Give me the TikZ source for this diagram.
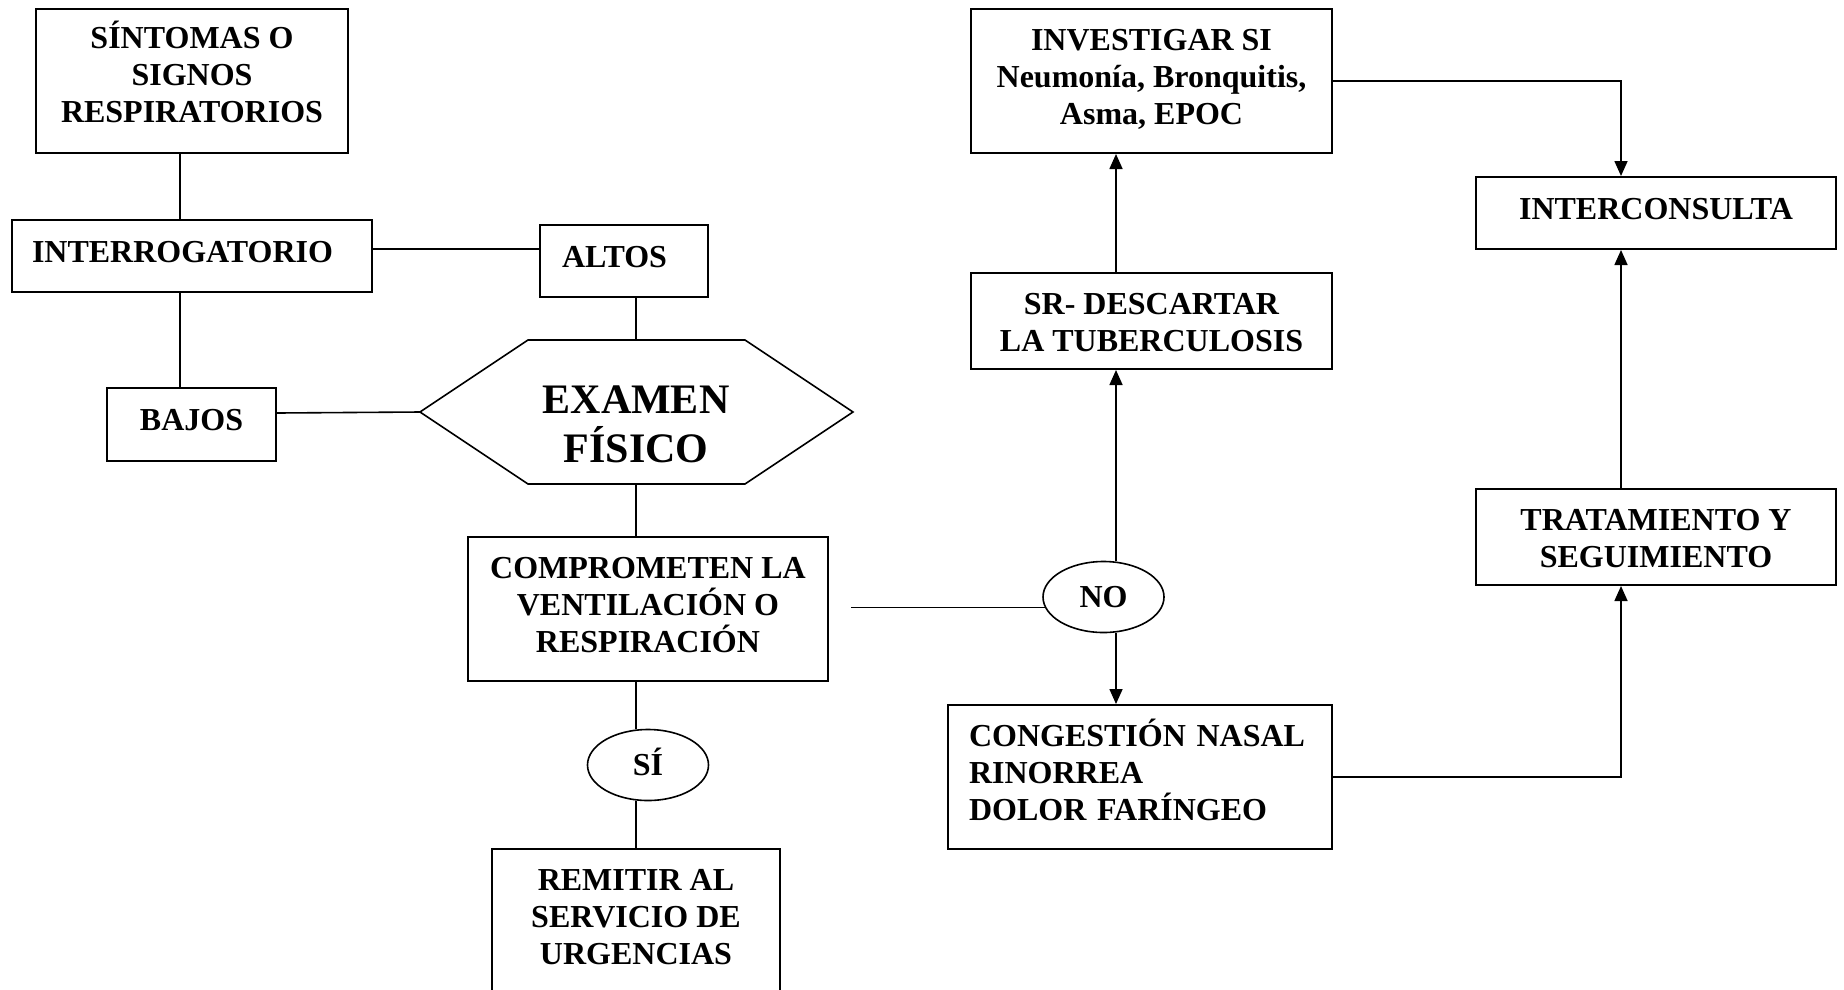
\documentclass[tikz,border=0pt]{standalone}
\usepackage{fontspec}
\setmainfont{Liberation Serif}
\usetikzlibrary{arrows.meta,shapes.geometric}
% invisible struts that set the space above the first line and below the last one
\newcommand\padtop[1]{\rule{0pt}{#1}}
\newcommand\padbot[1]{\rule[-#1]{0pt}{#1}}
\begin{document}
\begin{tikzpicture}[x=1pt,y=-1pt,
  every node/.style={font=\bfseries\fontsize{32}{37}\selectfont},
  box/.style={draw, line width=2pt, inner sep=0pt, align=center},
  oval/.style={draw, ellipse, line width=1.6pt, inner sep=0pt,
    minimum width=121pt, minimum height=71pt, text height=26pt, text depth=5pt},
  bigtext/.style={font=\bfseries\fontsize{42}{49}\selectfont, align=center, inner sep=0pt},
  link/.style={line width=1.6pt},
  flow/.style={line width=1.6pt, -{Triangle[length=15pt,width=13pt]}},
]
\useasboundingbox (0,0) rectangle (1844,989);
\clip (0,0) rectangle (1844,989);

% column and row guides for the connectors
\coordinate (cA) at (180,0);
\coordinate (cB) at (636,0);
\coordinate (cC) at (1116,0);
\coordinate (cD) at (1621,0);
\coordinate (cStart) at (851,0);
\coordinate (rA) at (0,249);
\coordinate (rB) at (0,413);

% left part
\node[box, minimum width=312pt, minimum height=144pt] (sint) at (192,81)
  {\padtop{28pt}SÍNTOMAS O\\SIGNOS\\RESPIRATORIOS\padbot{19pt}};
\node[box, align=left, inner xsep=20pt, text width=320pt, minimum height=72pt] (interr) at (192,256)
  {\padtop{28pt}INTERROGATORIO\padbot{16pt}};
\node[box, align=left, inner xsep=22pt, text width=124pt, minimum height=72pt] (altos) at (624,261)
  {\padtop{28pt}ALTOS\padbot{16pt}};
\node[box, minimum width=169pt, minimum height=73pt] (bajos) at (191.5,424.5)
  {\padtop{28pt}BAJOS\padbot{16pt}};

% physical examination hexagon
\coordinate (hL) at (420,412);
\coordinate (hTL) at (528,340);
\coordinate (hTR) at (745,340);
\coordinate (hR) at (853,412);
\coordinate (hBR) at (745,484);
\coordinate (hBL) at (528,484);
\draw[line width=1.6pt, line join=miter] (hL) -- (hTL) -- (hTR) -- (hR) -- (hBR) -- (hBL) -- cycle;
\node[bigtext] (exam) at (636,424) {EXAMEN\\FÍSICO};

\node[box, minimum width=360pt, minimum height=144pt] (compr) at (648,609)
  {\padtop{28pt}COMPROMETEN LA\\VENTILACIÓN O\\RESPIRACIÓN\padbot{15pt}};
\node[oval] (si) at (648,765) {SÍ};
\node[box, minimum width=288pt, minimum height=144pt] (remit) at (636,921)
  {\padtop{28pt}REMITIR AL\\SERVICIO DE\\URGENCIAS\padbot{15pt}};

% right part
\node[oval] (no) at (1103.5,597) {NO};
\node[box, minimum width=361pt, minimum height=144pt] (invest) at (1151.5,81)
  {\padtop{28pt}INVESTIGAR SI\\Neumonía, Bronquitis,\\Asma, EPOC\padbot{15pt}};
\node[box, minimum width=361pt, minimum height=96pt] (sr) at (1151.5,321)
  {\padtop{36pt}SR- DESCARTAR\\LA TUBERCULOSIS\padbot{12pt}};
\node[box, align=left, inner xsep=21pt, text width=342pt, minimum height=144pt] (cong) at (1140,777)
  {\padtop{28pt}CONGESTIÓN NASAL\\RINORREA\\DOLOR FARÍNGEO\padbot{16pt}};
\node[box, minimum width=360pt, minimum height=72pt] (interc) at (1656,213)
  {\padtop{28pt}INTERCONSULTA\padbot{16pt}};
\node[box, minimum width=360pt, minimum height=96pt] (trat) at (1656,537)
  {\padtop{36pt}TRATAMIENTO Y\\SEGUIMIENTO\padbot{12pt}};

% connectors, left part
\draw[link] (sint.south -| cA) -- (interr.north -| cA);
\draw[link] (interr.south -| cA) -- (bajos.north -| cA);
\draw[link] (interr.east |- rA) -- (altos.west |- rA);
\draw[link] (altos.south -| cB) -- (hTL -| cB);
\draw[link] (bajos.east |- rB) -- (hL);
\draw[link] (hBL -| cB) -- (compr.north -| cB);
\draw[link] (compr.south -| cB) -- (si.north -| cB);
\draw[link] (si.south -| cB) -- (remit.north -| cB);
\draw[link] (cStart |- no.190) -- (no.190);

% connectors, right part
\draw[flow] (no.north -| cC) -- (sr.south -| cC);
\draw[flow] (sr.north -| cC) -- (invest.south -| cC);
\draw[flow] (no.south -| cC) -- (cong.north -| cC);
\draw[flow] (invest.east) -| (interc.north -| cD);
\draw[flow] (cong.east) -| (trat.south -| cD);
\draw[flow] (trat.north -| cD) -- (interc.south -| cD);
\end{tikzpicture}
\end{document}
